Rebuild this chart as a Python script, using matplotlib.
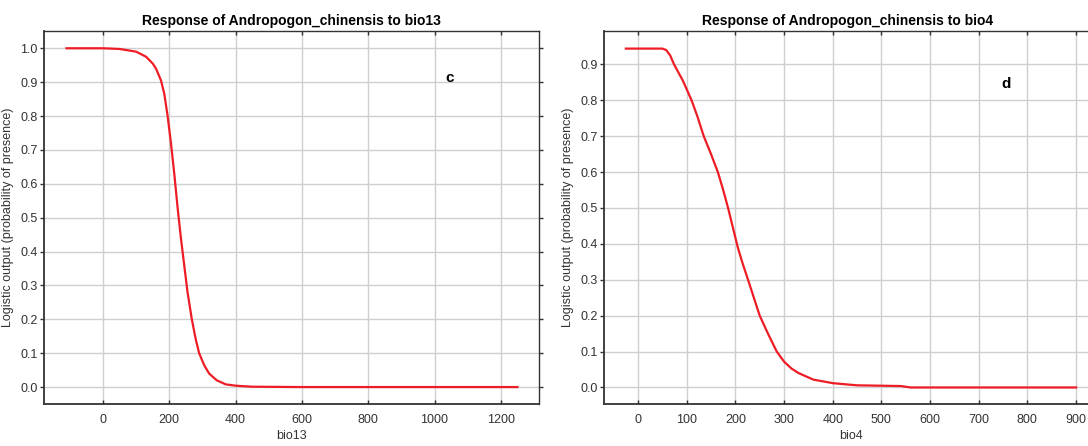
import matplotlib
matplotlib.use("Agg")
import matplotlib.pyplot as plt

plt.rcParams['font.family'] = ['Liberation Sans', 'DejaVu Sans']

# response curve c: bio13
bio13_x = [-110, 0, 50, 100, 130, 150, 160, 175, 185, 195, 205, 215, 225,
           235, 245, 255, 268, 280, 290, 305, 320, 343, 370, 400, 450, 600,
           1250]
bio13_y = [1.0, 1.0, 0.998, 0.99, 0.975, 0.955, 0.94, 0.905, 0.865, 0.80,
           0.72, 0.63, 0.53, 0.44, 0.36, 0.28, 0.2, 0.14, 0.1, 0.065, 0.04,
           0.02, 0.008, 0.004, 0.001, 0.0, 0.0]

# response curve d: bio4
bio4_x = [-25, 50, 58, 66, 74, 92, 110, 122, 135, 150, 164, 175, 185, 195,
          205, 215, 226, 238, 250, 267, 285, 300, 315, 330, 360, 400, 450,
          540, 560, 900]
bio4_y = [0.944, 0.944, 0.94, 0.925, 0.9, 0.855, 0.8, 0.755, 0.7, 0.65, 0.6,
          0.55, 0.5, 0.445, 0.39, 0.345, 0.3, 0.25, 0.2, 0.15, 0.1, 0.072,
          0.053, 0.04, 0.022, 0.012, 0.006, 0.004, 0.0, 0.0]

bio13_xticks = [0, 200, 400, 600, 800, 1000, 1200]
bio13_yticks = [0.0, 0.1, 0.2, 0.3, 0.4, 0.5, 0.6, 0.7, 0.8, 0.9, 1.0]
bio4_xticks = [0, 100, 200, 300, 400, 500, 600, 700, 800, 900]
bio4_yticks = [0.0, 0.1, 0.2, 0.3, 0.4, 0.5, 0.6, 0.7, 0.8, 0.9]

fig = plt.figure(figsize=(10.88, 4.46), dpi=100)

ax_c = fig.add_axes([0.0404, 0.0942, 0.4550, 0.8363])
ax_d = fig.add_axes([0.5551, 0.0942, 0.4550, 0.8363])


def style_panel(ax, x, y, xticks, yticks, xlim, ylim, xlabel, title,
                letter, letter_pos):

    ax.plot(x, y, color='#ee1c25', linewidth=1.6, zorder=3)

    ax.set_xlim(*xlim)
    ax.set_ylim(*ylim)
    ax.set_xticks(xticks)
    ax.set_yticks(yticks)
    ax.set_yticklabels([f"{v:.1f}" for v in yticks])

    ax.grid(True, color='#cfcfcf', linewidth=1.0)
    ax.set_axisbelow(True)

    ax.tick_params(axis='both', labelsize=9, colors='#333333',
                   length=3, width=1)
    ax.tick_params(axis='x', direction='in', top=True, pad=7)
    ax.tick_params(axis='y', direction='out', right=True, pad=1.5)
    ax.tick_params(axis='y', which='both', labelright=False)

    for side in ['left', 'bottom']:
        ax.spines[side].set_linewidth(1.3)
        ax.spines[side].set_color('#333333')
    for side in ['top', 'right']:
        ax.spines[side].set_linewidth(1.0)
        ax.spines[side].set_color('#333333')

    ax.set_xlabel(xlabel, fontsize=9, color='#333333', labelpad=3)
    ax.set_ylabel("Logistic output (probability of presence)",
                  fontsize=9, color='#333333')
    ax.yaxis.set_label_coords(-0.06, 0.5)
    ax.set_title(title, fontsize=10, fontweight='bold', pad=4)

    ax.text(letter_pos[0], letter_pos[1], letter, transform=ax.transAxes,
            fontsize=11, fontweight='bold', ha='center', va='center')


style_panel(ax_c, bio13_x, bio13_y, bio13_xticks, bio13_yticks,
            (-178, 1315), (-0.05, 1.051), "bio13",
            "Response of Andropogon_chinensis to bio13", "c", (0.82, 0.874))

style_panel(ax_d, bio4_x, bio4_y, bio4_xticks, bio4_yticks,
            (-70, 947), (-0.046, 0.993), "bio4",
            "Response of Andropogon_chinensis to bio4", "d", (0.812, 0.858))

# the cropped right panel hides its title centre beyond the canvas,
# so set it where it is in the picture
ax_d.title.set_position((0.4915, 1.0))

fig.savefig("out.png", dpi=100)
